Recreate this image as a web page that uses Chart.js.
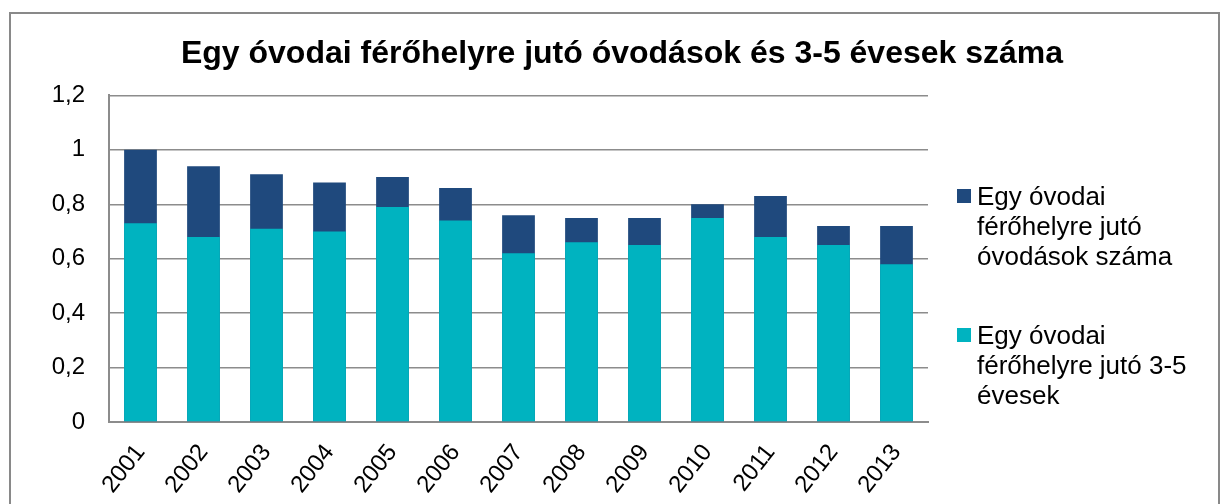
<!DOCTYPE html>
<html>
<head>
<meta charset="utf-8">
<script src="https://cdn.jsdelivr.net/npm/chart.js@4"></script>
<style>
  html, body { margin: 0; padding: 0; background: #fff; }
  body { width: 1224px; height: 504px; position: relative; overflow: hidden; font-family: "Liberation Sans", Arial, sans-serif; }
  #frame { position: absolute; left: 9px; top: 12px; width: 1211px; height: 520px; border: 2px solid #898989; box-sizing: border-box; }
  #wrap { position: absolute; left: 0; top: 0; width: 1224px; height: 504px; }
  #legend { position: absolute; left: 957px; top: 181px; }
  .item { position: relative; padding-left: 20px; font-size: 26px; line-height: 30px; color: #000; white-space: nowrap; }
  .item + .item { margin-top: 49px; }
  .swatch { position: absolute; left: 0; top: 8px; width: 14px; height: 14px; }
</style>
</head>
<body>
<div id="frame"></div>
<div id="wrap"><canvas id="chart" width="1224" height="504"></canvas></div>
<div id="legend"></div>
<script>
const years = ['2001', '2002', '2003', '2004', '2005', '2006', '2007', '2008', '2009', '2010', '2011', '2012', '2013']
// óvodások száma / férőhely
const ovodasok = [1.00, 0.94, 0.91, 0.88, 0.90, 0.86, 0.76, 0.75, 0.75, 0.80, 0.83, 0.72, 0.72]
// 3-5 évesek / férőhely
const evesek = [0.73, 0.68, 0.71, 0.70, 0.79, 0.74, 0.62, 0.66, 0.65, 0.75, 0.68, 0.65, 0.58]

const labelOvodasok = ['Egy óvodai', 'férőhelyre jutó', 'óvodások száma']
const labelEvesek = ['Egy óvodai', 'férőhelyre jutó 3-5', 'évesek']

const darkBlue = '#1F497D'
const teal = '#00B3C0'
const gridGray = '#8c8c8c'
const fontFamily = '"Liberation Sans", Arial, sans-serif'

const datasets = [
  { label: labelOvodasok.join(' '), data: ovodasok, backgroundColor: darkBlue, order: 1 },
  { label: labelEvesek.join(' '), data: evesek, backgroundColor: teal, order: 0 }
]

const chart = new Chart(document.getElementById('chart'), {
  type: 'bar',
  data: {
    labels: years,
    datasets: datasets.map(ds => ({
      ...ds,
      barPercentage: 0.52,
      categoryPercentage: 1,
      borderWidth: 0
    }))
  },
  options: {
    responsive: false,
    animation: false,
    layout: { padding: { left: 20, top: 0, right: 0, bottom: 0 } },
    plugins: {
      legend: { display: false },
      tooltip: { enabled: false },
      title: {
        display: true,
        text: 'Egy óvodai férőhelyre jutó óvodások és 3-5 évesek száma',
        color: '#000',
        font: { family: fontFamily, size: 32, weight: 'bold' },
        padding: { top: 35, bottom: 22 }
      }
    },
    scales: {
      x: {
        stacked: true,
        grid: { display: false },
        border: { display: true, color: gridGray, width: 2 },
        ticks: {
          color: '#000',
          font: { family: fontFamily, size: 24 },
          minRotation: 52,
          maxRotation: 52,
          padding: 9
        },
        afterFit: scale => { scale.height = 82 }
      },
      y: {
        stacked: false,
        min: 0,
        max: 1.2,
        grid: { color: gridGray, lineWidth: 1.5, drawTicks: false },
        border: { display: true, color: gridGray, width: 2 },
        ticks: {
          stepSize: 0.2,
          color: '#000',
          padding: 24,
          font: { family: fontFamily, size: 24 },
          callback: v => String(Number(v.toFixed(1))).replace('.', ',')
        },
        afterFit: scale => { scale.width = 89 }
      },
      side: {
        position: 'right',
        display: true,
        grid: { display: false },
        border: { display: false },
        ticks: { display: false },
        afterFit: scale => { scale.width = 296 }
      }
    }
  }
})

// legend with wrapped labels, like the original
const legendEl = document.getElementById('legend')
;[[labelOvodasok, darkBlue], [labelEvesek, teal]].forEach(([lines, color]) => {
  const item = document.createElement('div')
  item.className = 'item'
  const sw = document.createElement('span')
  sw.className = 'swatch'
  sw.style.background = color
  item.appendChild(sw)
  lines.forEach((line, i) => {
    if (i > 0) item.appendChild(document.createElement('br'))
    item.appendChild(document.createTextNode(line))
  })
  legendEl.appendChild(item)
})
</script>
</body>
</html>
